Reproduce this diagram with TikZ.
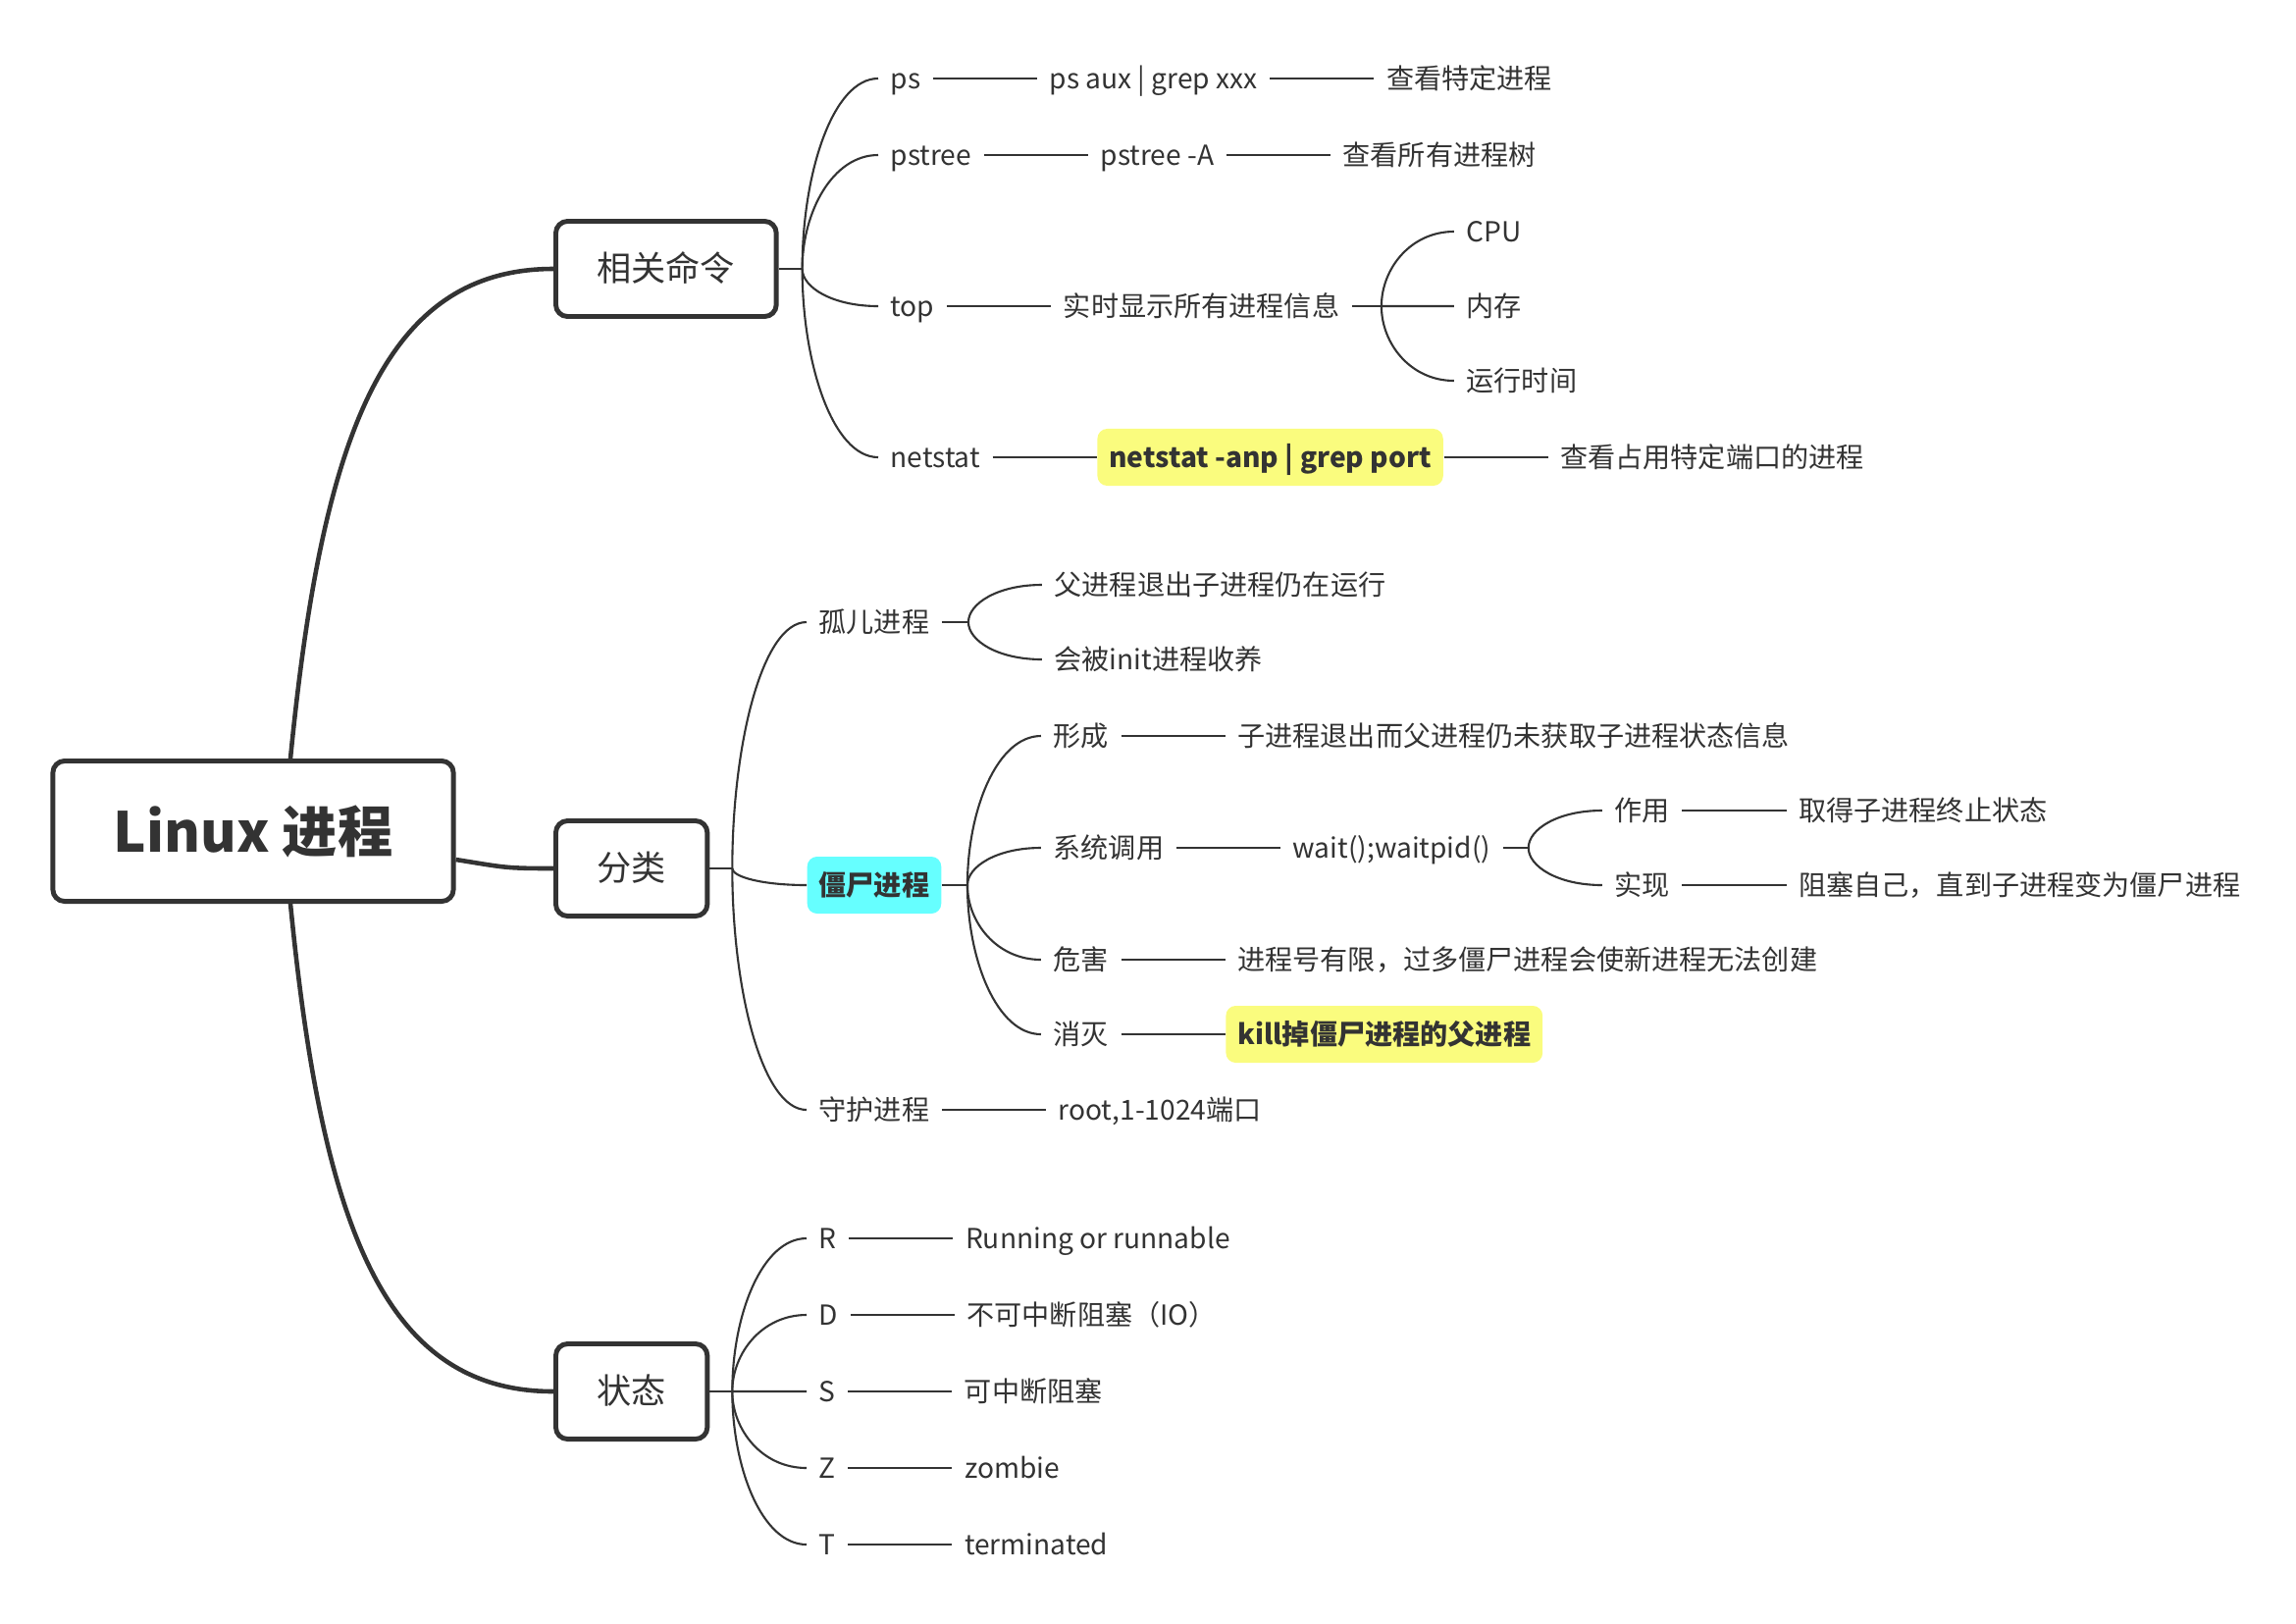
\documentclass[tikz,border=0pt]{standalone}
\usepackage{fontspec}
\setmainfont{Noto Sans CJK SC}
\usepackage{tikz}
\usetikzlibrary{positioning}
\usetikzlibrary{calc}
\definecolor{inkgray}{HTML}{333333}
\definecolor{hlyellow}{HTML}{FAFC7E}
\definecolor{hlcyan}{HTML}{66FFFF}
\tikzset{
  root_node/.style = {draw=inkgray, line width=1.4pt, rounded corners=0.12cm,
    fill=white, text=inkgray, minimum width=4.08cm, minimum height=1.43cm,
    font=\fontsize{16}{19}\selectfont\bfseries},% centre
  topic_node/.style = {draw=inkgray, line width=1.4pt, rounded corners=0.12cm,
    fill=white, text=inkgray, inner xsep=0.42cm, minimum height=0.97cm,
    text height=8pt, text depth=1pt, font=\fontsize{10}{12}\selectfont},% branche principale
  leaf/.style = {anchor=west, text=inkgray, inner xsep=0.12cm, inner ysep=0.08cm,
    text height=6.5pt, text depth=0.5pt, font=\fontsize{8}{10}\selectfont},% texte simple
  yellow_box/.style = {fill=hlyellow, rounded corners=0.1cm, minimum height=0.58cm},
  cyan_box/.style = {fill=hlcyan, rounded corners=0.1cm, minimum height=0.58cm},
  branch/.style = {draw=inkgray, line width=1.3pt},
  twig/.style = {draw=inkgray, line width=0.6pt},
  fan/.style = {to path={.. controls ($(\tikztostart)!0.5!(\tikztostart|-\tikztotarget)$)
    and ($(\tikztotarget)!0.6!(\tikztostart|-\tikztotarget)$) .. (\tikztotarget)}}
}
\begin{document}
\begin{tikzpicture}[x=0.01cm, y=-0.01cm, node distance=1.06cm]
  \useasboundingbox (0,0) rectangle (2340,1654);
  \node [root_node] (root) at (258,847) {Linux 进程};
  \node [topic_node, anchor=west] (cmd) at (564,274) {相关命令};
  \node [topic_node, anchor=west] (cls) at (564,885) {分类};
  \node [topic_node, anchor=west] (state) at (564,1418) {状态};

  % 相关命令
  \coordinate (cmdhub) at ($(cmd.east)+(24,0)$);
  \node [leaf] (ps) at (895,80) {ps};
  \node [leaf, right=of ps] (psaux) {ps aux | grep xxx};
  \node [leaf, right=of psaux] (psdesc) {查看特定进程};
  \node [leaf] (pstree) at (895,158) {pstree};
  \node [leaf, right=of pstree] (pstreea) {pstree -A};
  \node [leaf, right=of pstreea] (pstreedesc) {查看所有进程树};
  \node [leaf] (top) at (895,312) {top};
  \node [leaf, right=of top] (topinfo) {实时显示所有进程信息};
  \coordinate (infohub) at ($(topinfo.east)+(30,0)$);
  \node [leaf] (cpu) at ($(infohub)+(74,-76)$) {CPU};
  \node [leaf] (mem) at ($(infohub)+(74,0)$) {内存};
  \node [leaf] (runtime) at ($(infohub)+(74,76)$) {运行时间};
  \node [leaf] (netstat) at (895,466) {netstat};
  \node [leaf, yellow_box, right=of netstat] (anp) {\bfseries netstat -anp | grep port};
  \node [leaf, right=of anp] (portdesc) {查看占用特定端口的进程};

  % 分类
  \coordinate (clshub) at ($(cls.east)+(23,0)$);
  \node [leaf] (orphan) at (822,634) {孤儿进程};
  \coordinate (orphanhub) at ($(orphan.east)+(27,0)$);
  \node [leaf] (orphfirst) at ($(orphanhub)+(75,-38)$) {父进程退出子进程仍在运行};
  \node [leaf] (orphsecond) at ($(orphanhub)+(75,38)$) {会被init进程收养};
  \node [leaf, cyan_box] (zombie) at (822,902) {\bfseries 僵尸进程};
  \coordinate (zombiehub) at ($(zombie.east)+(26,0)$);
  \node [leaf] (form) at ($(zombiehub)+(75,-152)$) {形成};
  \node [leaf, right=of form] (formdesc) {子进程退出而父进程仍未获取子进程状态信息};
  \node [leaf] (syscall) at ($(zombiehub)+(75,-38)$) {系统调用};
  \node [leaf, right=of syscall] (wait) {wait();waitpid()};
  \coordinate (waithub) at ($(wait.east)+(26,0)$);
  \node [leaf] (usage) at ($(waithub)+(75,-38)$) {作用};
  \node [leaf, right=of usage] (usagedesc) {取得子进程终止状态};
  \node [leaf] (impl) at ($(waithub)+(75,38)$) {实现};
  \node [leaf, right=of impl] (impldesc) {阻塞自己，直到子进程变为僵尸进程};
  \node [leaf] (harm) at ($(zombiehub)+(75,76)$) {危害};
  \node [leaf, right=of harm] (harmdesc) {进程号有限，过多僵尸进程会使新进程无法创建};
  \node [leaf] (kill) at ($(zombiehub)+(75,152)$) {消灭};
  \node [leaf, yellow_box, right=of kill] (killdesc) {\bfseries kill掉僵尸进程的父进程};
  \node [leaf] (daemon) at (822,1131) {守护进程};
  \node [leaf, right=of daemon] (daemondesc) {root,1-1024端口};

  % 状态
  \coordinate (statehub) at ($(state.east)+(23,0)$);
  \node [leaf] (sr) at (822,1262) {R};
  \node [leaf, right=of sr] (srdesc) {Running or runnable};
  \node [leaf] (sd) at (822,1340) {D};
  \node [leaf, right=of sd] (sddesc) {不可中断阻塞（IO）};
  \node [leaf] (ss) at (822,1418) {S};
  \node [leaf, right=of ss] (ssdesc) {可中断阻塞};
  \node [leaf] (sz) at (822,1496) {Z};
  \node [leaf, right=of sz] (szdesc) {zombie};
  \node [leaf] (st) at (822,1574) {T};
  \node [leaf, right=of st] (stdesc) {terminated};

  % branches principales
  \draw [branch] (root.north) ++(38,0) .. controls +(32,-326) and +(-174,0) .. (cmd.west);
  \draw [branch] (root.east) ++(0,29) .. controls +(50,8) and +(-50,0) .. (cls.west);
  \draw [branch] (root.south) ++(38,0) .. controls +(32,325) and +(-174,0) .. (state.west);

  % liens
  \draw [twig] (cmd) -- (cmdhub);
  \foreach \c in {ps,pstree,top,netstat}
    \draw [twig] (cmdhub) to[fan] (\c.west);
  \draw [twig] (ps) -- (psaux) (psaux) -- (psdesc);
  \draw [twig] (pstree) -- (pstreea) (pstreea) -- (pstreedesc);
  \draw [twig] (top) -- (topinfo) (topinfo) -- (infohub);
  \foreach \c in {cpu,mem,runtime}
    \draw [twig] (infohub) to[fan] (\c.west);
  \draw [twig] (netstat) -- (anp) (anp) -- (portdesc);

  \draw [twig] (cls) -- (clshub);
  \foreach \c in {orphan,zombie,daemon}
    \draw [twig] (clshub) to[fan] (\c.west);
  \draw [twig] (orphan) -- (orphanhub);
  \foreach \c in {orphfirst,orphsecond}
    \draw [twig] (orphanhub) to[fan] (\c.west);
  \draw [twig] (zombie) -- (zombiehub);
  \foreach \c in {form,syscall,harm,kill}
    \draw [twig] (zombiehub) to[fan] (\c.west);
  \draw [twig] (form) -- (formdesc);
  \draw [twig] (syscall) -- (wait) (wait) -- (waithub);
  \foreach \c in {usage,impl}
    \draw [twig] (waithub) to[fan] (\c.west);
  \draw [twig] (usage) -- (usagedesc) (impl) -- (impldesc);
  \draw [twig] (harm) -- (harmdesc) (kill) -- (killdesc);
  \draw [twig] (daemon) -- (daemondesc);

  \draw [twig] (state) -- (statehub);
  \foreach \c in {sr,sd,ss,sz,st}
    \draw [twig] (statehub) to[fan] (\c.west);
  \draw [twig] (sr) -- (srdesc) (sd) -- (sddesc) (ss) -- (ssdesc);
  \draw [twig] (sz) -- (szdesc) (st) -- (stdesc);
\end{tikzpicture}
\end{document}
